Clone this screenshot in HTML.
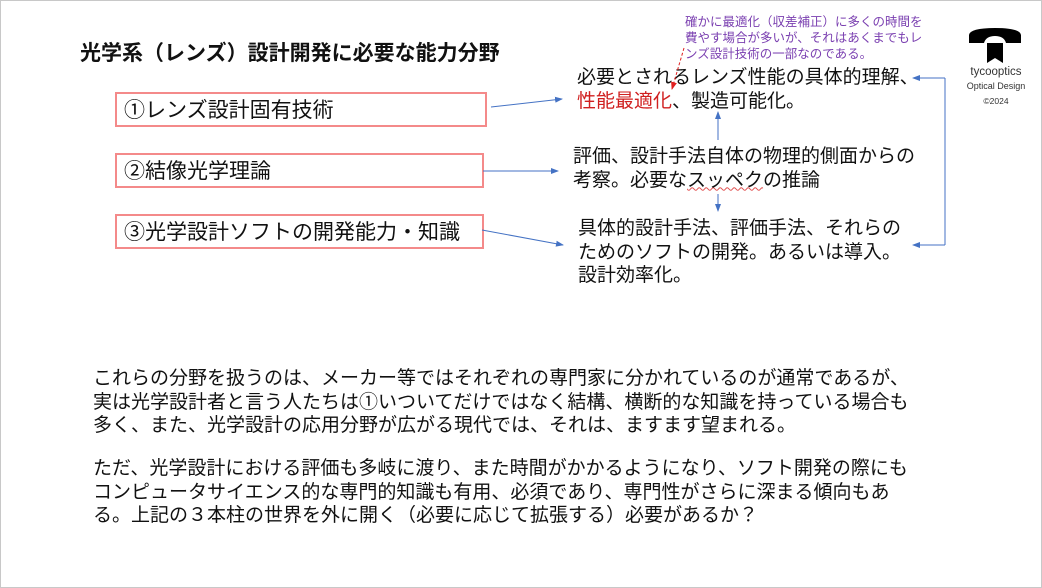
<!DOCTYPE html>
<html><head><meta charset="utf-8"><style>
body{margin:0;width:1042px;height:588px;background:#fff;position:relative;overflow:hidden;font-family:"Liberation Sans","Noto Sans CJK JP",sans-serif;color:#111}
.frame{position:absolute;left:0;top:0;width:1040px;height:586px;border:1px solid #c8c8c8}
.t{position:absolute;white-space:nowrap}
.box{position:absolute;border:2px solid #f48a8a;box-sizing:border-box;font-size:21px;line-height:33px;padding-left:7px}
.p{font-size:19px;line-height:23.5px}
</style></head><body>
<div class="frame"></div>
<div class="t" style="left:80px;top:37px;font-size:21px;font-weight:bold">光学系（レンズ）設計開発に必要な能力分野</div>
<div class="box" style="left:115px;top:92px;width:372px;height:35px">①レンズ設計固有技術</div>
<div class="box" style="left:115px;top:153px;width:369px;height:35px">②結像光学理論</div>
<div class="box" style="left:115px;top:214px;width:369px;height:35px">③光学設計ソフトの開発能力・知識</div>
<div class="t" style="left:685px;top:14px;font-size:12.5px;line-height:16px;color:#7a3fb0">確かに最適化（収差補正）に多くの時間を<br>費やす場合が多いが、それはあくまでもレ<br>ンズ設計技術の一部なのである。</div>
<div class="t p" style="left:577px;top:66px">必要とされるレンズ性能の具体的理解、<br><span style="color:#d02020">性能最適化</span>、製造可能化。</div>
<div class="t p" style="left:573px;top:145px">評価、設計手法自体の物理的側面からの<br>考察。必要な<span style="text-decoration:underline wavy #e05050 1px">スッペク</span>の推論</div>
<div class="t p" style="left:578px;top:217px">具体的設計手法、評価手法、それらの<br>ためのソフトの開発。あるいは導入。<br>設計効率化。</div>
<div class="t p" style="left:93px;top:367px">これらの分野を扱うのは、メーカー等ではそれぞれの専門家に分かれているのが通常であるが、<br>実は光学設計者と言う人たちは①いついてだけではなく結構、横断的な知識を持っている場合も<br>多く、また、光学設計の応用分野が広がる現代では、それは、ますます望まれる。</div>
<div class="t p" style="left:93px;top:457px">ただ、光学設計における評価も多岐に渡り、また時間がかかるようになり、ソフト開発の際にも<br>コンピュータサイエンス的な専門的知識も有用、必須であり、専門性がさらに深まる傾向もあ<br>る。上記の３本柱の世界を外に開く（必要に応じて拡張する）必要があるか？</div>
<svg style="position:absolute;left:0;top:0" width="1042" height="588">
<defs><marker id="a" markerWidth="8" markerHeight="8" refX="7" refY="4" orient="auto" markerUnits="userSpaceOnUse"><path d="M0,1 L8,4 L0,7z" fill="#4472c4"/></marker>
<marker id="r" markerWidth="8" markerHeight="8" refX="7" refY="4" orient="auto" markerUnits="userSpaceOnUse"><path d="M0,1 L8,4 L0,7z" fill="#e02020"/></marker></defs>
<g stroke="#4472c4" stroke-width="1" fill="none">
<line x1="491" y1="107" x2="562" y2="99" marker-end="url(#a)"/>
<line x1="483" y1="171" x2="558" y2="171" marker-end="url(#a)"/>
<line x1="482" y1="230" x2="563" y2="245" marker-end="url(#a)"/>
<line x1="718" y1="140" x2="718" y2="112" marker-end="url(#a)"/>
<line x1="718" y1="194" x2="718" y2="211" marker-end="url(#a)"/>
<polyline points="945,78 945,245"/>
<line x1="945" y1="78" x2="913" y2="78" marker-end="url(#a)"/>
<line x1="945" y1="245" x2="913" y2="245" marker-end="url(#a)"/>
</g>
<line x1="684" y1="48" x2="672" y2="89" stroke="#e02020" stroke-width="1" stroke-dasharray="3,2" marker-end="url(#r)"/>
<path d="M969,35 Q970,28 995,28 Q1020,28 1021,35 L1021,43 L1006,43 Q1004,36 995,36 Q986,36 984,43 L969,43Z" fill="#000"/>
<path d="M987,43 L1003,43 L1003,63 L995,58 L987,63Z" fill="#000"/>
</svg>
<div class="t" style="left:961px;top:66px;font-size:11.5px;color:#333;width:70px;text-align:center">tycooptics</div>
<div class="t" style="left:958px;top:81px;font-size:9px;color:#333;width:76px;text-align:center">Optical Design</div>
<div class="t" style="left:966px;top:96px;font-size:8.5px;color:#333;width:60px;text-align:center">©2024</div>
</body></html>
